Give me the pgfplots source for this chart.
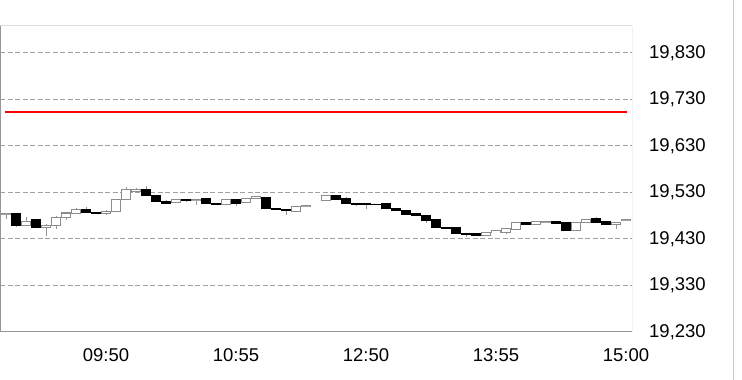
\documentclass[border=0pt]{standalone}
\usepackage{fontspec}
\setmainfont{Liberation Sans}
\usepackage{pgfplots}
\usepackage{pgfplotstable}
\pgfplotsset{compat=1.18}
\definecolor{gridgray}{RGB}{160,160,160}
\definecolor{wickgray}{RGB}{150,150,150}
\definecolor{boxgray}{RGB}{140,140,140}
\definecolor{framegray}{RGB}{150,150,150}
\definecolor{topgray}{RGB}{220,220,220}

% index Open High Low Close
\pgfplotstableread{
i O H L C
1 19484 19486 19456 19459
3 19472 19474 19453 19455
8 19494 19499 19486 19487
9 19487 19488 19484 19485
14 19537 19543 19522 19523
15 19523 19524 19510 19511
16 19511 19514 19505 19507
18 19515 19516 19510 19512
20 19516 19517 19505 19506
21 19506 19507 19504 19505
23 19516 19517 19500 19507
26 19520 19521 19495 19496
27 19496 19497 19492 19493
28 19493 19494 19482 19491
33 19523 19525 19515 19516
34 19516 19520 19505 19506
35 19506 19507 19500 19505
36 19507 19508 19494 19504
37 19505 19506 19503 19504
38 19506 19507 19494 19495
39 19495 19496 19490 19491
40 19491 19492 19481 19482
41 19485 19486 19479 19480
42 19480 19481 19465 19470
43 19471 19472 19453 19454
44 19455 19456 19453 19454
45 19454 19455 19440 19441
46 19441 19442 19434 19439
47 19441 19442 19436 19437
52 19466 19467 19461 19462
55 19467 19468 19463 19464
56 19466 19467 19447 19448
59 19473 19478 19465 19466
60 19467 19468 19461 19462
}\down

\pgfplotstableread{
i O H L C
0 19482 19486 19474 19484
2 19459 19478 19458 19468
4 19455 19462 19436 19460
5 19460 19479 19452 19477
6 19477 19488 19470 19486
7 19484 19497 19483 19494
10 19485 19492 19481 19490
11 19490 19517 19489 19516
12 19516 19542 19515 19537
13 19533 19540 19531 19537
17 19508 19516 19507 19515
19 19512 19515 19503 19514
22 19505 19516 19504 19515
24 19508 19519 19507 19518
25 19518 19523 19517 19521
29 19489 19500 19488 19499
30 19500 19503 19499 19502
32 19512 19524 19511 19523
48 19437 19445 19436 19444
49 19444 19449 19443 19448
50 19445 19453 19440 19452
51 19451 19467 19450 19466
53 19461 19468 19460 19467
54 19467 19469 19466 19468
57 19448 19467 19447 19466
58 19466 19472 19465 19471
61 19462 19467 19451 19466
62 19469 19472 19468 19471
}\up

\begin{document}
\begin{tikzpicture}
\useasboundingbox (0pt,0pt) rectangle (742pt,380pt);
\draw[color=topgray!80!gray, line width=1pt] (733pt,0pt) -- (733pt,380pt);
\begin{axis}[
  at={(0pt,48pt)}, anchor=south west,
  scale only axis, width=632pt, height=306pt,
  xmin=-0.6, xmax=62.6, ymin=19230, ymax=19888,
  axis line style={draw=none},
  xtick={10,23,36,49,62},
  xticklabels={09:50,10:55,12:50,13:55,15:00},
  ytick={19230,19330,19430,19530,19630,19730,19830},
  yticklabel pos=right,
  scaled y ticks=false,
  major tick length=0pt,
  ymajorgrids,
  major grid style={draw=gridgray, dash pattern=on 5pt off 2.5pt, line width=1pt},
  tick label style={font=\fontsize{18.5}{20}\selectfont, text=black},
  x tick label style={inner sep=0pt, yshift=-16pt},
  y tick label style={inner sep=0pt, xshift=17pt, anchor=west,
     /pgf/number format/.cd, 1000 sep={,}, assume math mode=true},
]
% wicks
\addplot[mark=none, draw=none, forget plot,
  error bars/.cd, y dir=both, y explicit, error mark=none,
  error bar style={draw=wickgray, line width=1pt}]
  table[x=i, y expr={(\thisrow{H}+\thisrow{L})/2}, y error expr={(\thisrow{H}-\thisrow{L})/2}] {\up};
\addplot[mark=none, draw=none, forget plot,
  error bars/.cd, y dir=both, y explicit, error mark=none,
  error bar style={draw=wickgray, line width=1pt}]
  table[x=i, y expr={(\thisrow{H}+\thisrow{L})/2}, y error expr={(\thisrow{H}-\thisrow{L})/2}] {\down};
% hollow (up) bodies
\addplot[mark=none, draw=none, forget plot,
  error bars/.cd, y dir=both, y explicit, error mark=none,
  error bar style={draw=boxgray, line width=9.5pt}]
  table[x=i, y expr={(\thisrow{O}+\thisrow{C})/2}, y error expr={abs(\thisrow{C}-\thisrow{O})/2+1.1}] {\up};
\addplot[mark=none, draw=none, forget plot,
  error bars/.cd, y dir=both, y explicit, error mark=none,
  error bar style={draw=white, line width=7.5pt}]
  table[x=i, y expr={(\thisrow{O}+\thisrow{C})/2}, y error expr={max(abs(\thisrow{C}-\thisrow{O})/2-1.1,0.01)}] {\up};
% filled (down) bodies
\addplot[mark=none, draw=none, forget plot,
  error bars/.cd, y dir=both, y explicit, error mark=none,
  error bar style={draw=black, line width=9.5pt}]
  table[x=i, y expr={(\thisrow{O}+\thisrow{C})/2}, y error expr={abs(\thisrow{C}-\thisrow{O})/2+1.1}] {\down};
% red level line
\addplot[red, line width=2pt, mark=none] coordinates {(-0.1,19703) (62.1,19703)};
% frame
\draw[topgray, line width=1pt] (rel axis cs:0,1) -- (rel axis cs:1,1);
\draw[framegray, line width=1pt] (rel axis cs:0,1) -- (rel axis cs:0,0) -- (rel axis cs:1,0) -- (rel axis cs:1,1);
\end{axis}
\end{tikzpicture}
\end{document}
